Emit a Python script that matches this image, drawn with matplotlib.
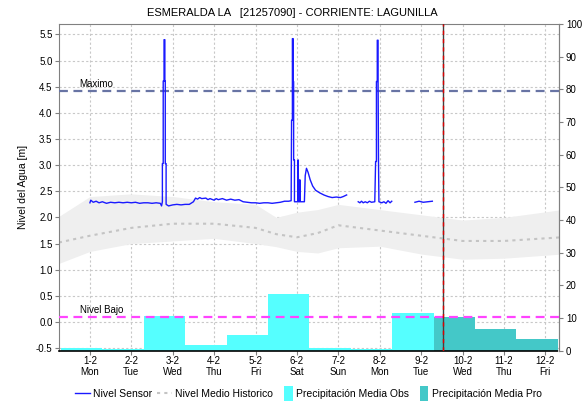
import numpy as np
import matplotlib
matplotlib.use("Agg")
import matplotlib.pyplot as plt
from matplotlib.lines import Line2D
from matplotlib.patches import Patch, Rectangle
from matplotlib.legend_handler import HandlerPatch
from matplotlib.transforms import blended_transform_factory

plt.rcParams['font.family'] = ['Liberation Sans', 'DejaVu Sans']

title = "ESMERALDA LA   [21257090] - CORRIENTE: LAGUNILLA"
day_labels = ["1-2\nMon", "2-2\nTue", "3-2\nWed", "4-2\nThu", "5-2\nFri", "6-2\nSat",
              "7-2\nSun", "8-2\nMon", "9-2\nTue", "10-2\nWed", "11-2\nThu", "12-2\nFri"]
day_ticks = list(range(12))

# precipitation (right axis, mm)
obs_days = [0, 1, 2, 3, 4, 5, 6, 7, 8]
obs_vals = [0.9, 0.5, 10.6, 1.7, 4.8, 17.4, 0.7, 0.6, 11.5]
pro_days = [9, 10, 11]
pro_vals = [10.3, 6.6, 3.6]

# historic mean and band (left axis, m)
hist_days = [-0.75, 0, 1, 2, 3, 4, 4.5, 5, 5.5, 6, 7, 8, 9, 10, 11.4]
hist_mean = [1.52, 1.65, 1.80, 1.88, 1.88, 1.80, 1.68, 1.62, 1.70, 1.85, 1.75, 1.65, 1.55, 1.55, 1.62]
hist_low = [1.12, 1.35, 1.50, 1.55, 1.60, 1.50, 1.44, 1.35, 1.32, 1.42, 1.45, 1.30, 1.20, 1.22, 1.30]
hist_high = [2.02, 2.40, 2.45, 2.40, 2.30, 2.25, 2.00, 2.10, 2.15, 2.25, 2.15, 2.05, 1.95, 2.00, 2.15]

# sensor level (left axis, m); NaN = gap
sensor_days = [0.00, 0.02, 0.08, 0.15, 0.22, 0.30, 0.40, 0.50, 0.60, 0.70, 0.80, 0.90, 1.00, 1.10,
               1.20, 1.30, 1.40, 1.50, 1.60, 1.70, 1.73, 1.75, 1.75, 1.77, 1.77, 1.79, 1.79, 1.81,
               1.81, 1.82, 1.82, 1.84, 1.84, 1.90, 2.00, 2.10, 2.20, 2.30, 2.40, 2.50, 2.55, 2.60,
               2.65, 2.70, 2.80, 2.85, 2.90, 3.00, 3.05, 3.10, 3.20, 3.30, 3.40, 3.50, 3.60, 3.70,
               3.80, 3.90, 4.00, 4.10, 4.20, 4.30, 4.40, 4.50, 4.60, 4.70, 4.80, 4.86, 4.87, 4.89,
               4.89, 4.91, 4.91, 4.92, 4.92, 4.94, 4.94, 5.02, 5.03, 5.04, 5.06, 5.07, 5.08, 5.18,
               5.20, 5.23, 5.27, 5.32, 5.38, 5.45, 5.55, 5.65, 5.75, 5.85, 5.95, 6.05, 6.12, 6.20,
               6.30,
               6.48, 6.52, 6.56, 6.60, 6.65, 6.70, 6.75, 6.80, 6.88, 6.90, 6.92, 6.92, 6.94, 6.94,
               6.96, 6.96, 6.97, 6.98, 7.05, 7.10, 7.15, 7.20, 7.25, 7.29,
               7.50,
               7.85, 7.95, 8.05, 8.15, 8.27]
sensor_vals = [2.28, 2.33, 2.29, 2.31, 2.28, 2.30, 2.27, 2.29, 2.28, 2.29, 2.28, 2.29, 2.28, 2.29,
               2.27, 2.28, 2.28, 2.27, 2.28, 2.27, 2.22, 2.30, 3.03, 3.03, 4.61, 4.61, 5.40, 5.40,
               4.61, 4.61, 3.03, 3.03, 2.25, 2.22, 2.24, 2.25, 2.24, 2.25, 2.25, 2.30, 2.37, 2.35,
               2.38, 2.36, 2.37, 2.34, 2.36, 2.33, 2.36, 2.34, 2.36, 2.33, 2.35, 2.33, 2.34, 2.30,
               2.29, 2.28, 2.28, 2.27, 2.28, 2.28, 2.27, 2.28, 2.29, 2.31, 2.31, 2.32, 3.86, 3.86,
               5.42, 5.42, 4.60, 4.60, 3.10, 3.10, 2.30, 2.30, 3.10, 2.30, 2.30, 2.72, 2.30, 2.30,
               2.80, 2.94, 2.86, 2.72, 2.60, 2.52, 2.47, 2.43, 2.40, 2.38, 2.39, 2.38, 2.40, 2.43,
               np.nan,
               2.30, 2.28, 2.31, 2.28, 2.30, 2.28, 2.31, 2.29, 2.30, 3.07, 3.07, 4.60, 4.60, 5.39,
               5.39, 4.60, 3.07, 2.30, 2.28, 2.30, 2.27, 2.32, 2.28, 2.31,
               np.nan,
               2.29, 2.31, 2.29, 2.30, 2.31]

nivel_maximo = 4.42
nivel_bajo = 0.1
now_day = 8.53

fig = plt.figure(figsize=(5.85, 4.05), dpi=100)
ax = fig.add_axes([0.1017, 0.134, 0.8539, 0.8067])
ax.set_xlim(-0.735, 11.33)
ax.set_ylim(-0.55, 5.70)
ax.set_yticks(np.arange(-0.5, 5.51, 0.5))
ax.set_yticklabels([f"{v:.1f}" for v in np.arange(-0.5, 5.51, 0.5)])
ax.set_xticks(day_ticks)
ax.set_xticklabels(day_labels, linespacing=1.05)
ax.grid(True, color='#c8c8c8', linestyle=(0, (2, 2)), linewidth=0.8)
ax.set_axisbelow(True)
ax.tick_params(labelsize=7, length=3, color='#808080', pad=2)
ax.tick_params(axis='x', pad=1)
for s in ['left', 'top', 'right']:
    ax.spines[s].set_color('#808080')
ax.spines['bottom'].set_visible(False)
ax.set_ylabel("Nivel del Agua [m]", fontsize=7.5, labelpad=6)

ax.fill_between(hist_days, hist_low, hist_high, color='#efefef', linewidth=0, zorder=1)
ax.plot(hist_days, hist_mean, color='#c4c4c4', linestyle=(0, (1.5, 2)), linewidth=1.5, zorder=2)
ax.axhline(nivel_maximo, color='#6874a4', linestyle=(0, (4, 2.5)), linewidth=1.6, zorder=3)
ax.text(-0.25, nivel_maximo + 0.04, "Maximo", fontsize=7, ha='left', va='bottom', zorder=4)
ax.plot(sensor_days, sensor_vals, color='#1a1aff', linewidth=1.0, zorder=5)

ax2 = ax.twinx()
ax2.set_ylim(0, 100)
ax2.set_yticks(np.arange(0, 101, 10))
ax2.tick_params(labelsize=7, length=3, color='#808080', pad=2)
for s in ['left', 'top']:
    ax2.spines[s].set_visible(False)
ax2.spines['right'].set_color('#808080')
ax2.spines['bottom'].set_linestyle((0, (1, 1)))
ax2.spines['bottom'].set_color('black')
ax2.spines['bottom'].set_linewidth(1.2)

ax2.bar(np.array(obs_days) - 0.7, obs_vals, width=1.0, align='edge', color='#55ffff', linewidth=0, zorder=1)
ax2.bar(np.array(pro_days) - 0.7, pro_vals, width=1.0, align='edge', color='#44c8c8', linewidth=0, zorder=2)

tr = blended_transform_factory(ax2.transAxes, ax.transData)
ax2.plot([0, 1], [nivel_bajo, nivel_bajo], transform=tr, color='#ff44ff', linestyle=(0, (4, 2.5)), linewidth=1.6, zorder=3)
ax2.text(-0.25, nivel_bajo + 0.04, "Nivel Bajo", transform=blended_transform_factory(ax.transData, ax.transData),
         fontsize=7, ha='left', va='bottom', zorder=4)
ax2.axvline(now_day, color='#404040', linewidth=1.0, zorder=4)
ax2.axvline(now_day, color='#dd0000', linewidth=1.0, linestyle=(0, (3, 3)), zorder=5)

fig.text(0.5, 0.968, title, ha='center', va='center', fontsize=8)


def narrow_patch(legend, orig_handle, xdescent, ydescent, width, height, fontsize):
    w = 6.0
    return Rectangle((width - xdescent - w, -ydescent - 3), w, height + 6)


handles = [Line2D([], [], color='#1a1aff', linewidth=1.0),
           Line2D([], [], color='#c4c4c4', linestyle=(0, (1.5, 2)), linewidth=1.5),
           Patch(facecolor='#55ffff', edgecolor='none'),
           Patch(facecolor='#44c8c8', edgecolor='none')]
labels = ["Nivel Sensor", "Nivel Medio Historico", "Precipitación Media Obs", "Precipitación Media Pro"]
fig.legend(handles, labels, loc='center', bbox_to_anchor=(0.527, 0.027), ncol=4, frameon=False,
           fontsize=7.5, handlelength=1.4, handletextpad=0.3, columnspacing=0.5,
           handler_map={Patch: HandlerPatch(patch_func=narrow_patch)})

fig.savefig("out.png", dpi=100)
